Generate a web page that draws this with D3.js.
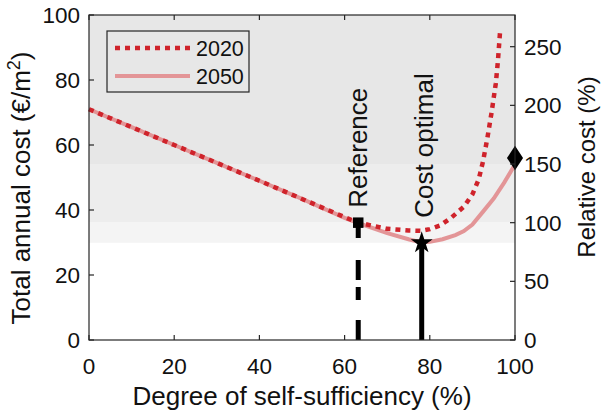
<!DOCTYPE html>
<html>
<head>
<meta charset="utf-8">
<script src="https://cdn.jsdelivr.net/npm/d3@7"></script>
<style>
  body { margin: 0; background: #fff; }
  text { font-family: "Liberation Sans", Arial, sans-serif; fill: #111; }
</style>
</head>
<body>
<div id="chart"></div>
<script>
// self-sufficiency (%) -> total annual cost (EUR/m2)
const ss2020 = [0, 10, 20, 30, 40, 50, 60, 63.2, 70, 75, 78, 80, 82.5, 85, 88, 90, 91.5, 92.5, 93.5, 94.5, 95.5, 96, 96.5];
const cost2020 = [71, 65.5, 60, 54.5, 49, 43.4, 37.8, 36.1, 34.2, 33.7, 33.6, 34.1, 35.3, 37.6, 41, 44.8, 49.5, 55, 62, 70, 79, 86, 95];
const ss2050 = [0, 10, 20, 30, 40, 50, 60, 63.2, 70, 75, 78, 80, 83, 86, 88, 90, 92.5, 95, 97.5, 100];
const cost2050 = [71, 65.5, 60, 54.5, 49, 43.4, 37.6, 36, 32.9, 31, 30, 30.2, 31, 32.3, 33.5, 35.5, 39.5, 43.5, 48.5, 54];

const refPoint = { ss: 63.2, cost: 36.1 };
const optPoint = { ss: 78.1, cost: 29.9 };
const fullPoint = { ss: 100, cost: 56 };

const xTicks = [0, 20, 40, 60, 80, 100];
const yTicks = [0, 20, 40, 60, 80, 100];
const relTicks = [0, 50, 100, 150, 200, 250];
// relative cost bands (%)
const bandEdges = [150, 100, optPoint.cost / refPoint.cost * 100];
const bandColors = ['#e7e7e7', '#ededed', '#f4f4f4'];

const width = 602;
const height = 415;
const plot = { left: 89, right: 515, top: 15, bottom: 340 };
const tickFont = '22.5px';
const labelFont = '26px';

const x = d3.scaleLinear().domain([0, 100]).range([plot.left, plot.right]);
const y = d3.scaleLinear().domain([0, 100]).range([plot.bottom, plot.top]);
const yRel = d3.scaleLinear()
  .domain([0, 100 * 100 / refPoint.cost])
  .range([plot.bottom, plot.top]);

const svg = d3.select('#chart').append('svg')
  .attr('width', width)
  .attr('height', height);

// background bands
const bandTops = [yRel.domain()[1], bandEdges[0], bandEdges[1]];
bandTops.forEach((top, i) => {
  svg.append('rect')
    .attr('x', plot.left)
    .attr('width', plot.right - plot.left)
    .attr('y', yRel(top))
    .attr('height', yRel(bandEdges[i]) - yRel(top))
    .style('fill', bandColors[i]);
});

const line = d3.line()
  .x(d => x(d[0]))
  .y(d => y(d[1]));

// 2050 solid
svg.append('path')
  .datum(ss2050.map((s, i) => [s, cost2050[i]]))
  .attr('d', line)
  .style('fill', 'none')
  .style('stroke', '#e39597')
  .style('stroke-width', 4);

// 2020 dotted
svg.append('path')
  .datum(ss2020.map((s, i) => [s, cost2020[i]]))
  .attr('d', line)
  .style('fill', 'none')
  .style('stroke', '#cf232b')
  .style('stroke-width', 4.5)
  .style('stroke-dasharray', '5,5');

// reference: dashed drop line
svg.append('line')
  .attr('x1', x(refPoint.ss)).attr('x2', x(refPoint.ss))
  .attr('y1', y(0)).attr('y2', y(refPoint.cost))
  .style('stroke', '#000')
  .style('stroke-width', 5)
  .style('stroke-dasharray', '20,20,13,7,20,22');

// cost optimal: solid drop line
svg.append('line')
  .attr('x1', x(optPoint.ss)).attr('x2', x(optPoint.ss))
  .attr('y1', y(0)).attr('y2', y(optPoint.cost))
  .style('stroke', '#000')
  .style('stroke-width', 5);

svg.append('path')
  .attr('d', d3.symbol(d3.symbolSquare, 110)())
  .attr('transform', `translate(${x(refPoint.ss)},${y(refPoint.cost)})`)
  .style('fill', '#000');

svg.append('path')
  .attr('d', d3.symbol(d3.symbolStar, 150)())
  .attr('transform', `translate(${x(optPoint.ss)},${y(optPoint.cost)})`)
  .style('fill', '#000');

svg.append('path')
  .attr('d', d3.symbol(d3.symbolDiamond, 170)())
  .attr('transform', `translate(${x(fullPoint.ss)},${y(fullPoint.cost)}) scale(1.15,1)`)
  .style('fill', '#000');

// annotations
svg.append('text')
  .attr('transform', `translate(${x(refPoint.ss) + 9},${y(refPoint.cost) - 15}) rotate(-90)`)
  .style('font-size', labelFont)
  .text('Reference');

svg.append('text')
  .attr('transform', `translate(${x(optPoint.ss) + 11},${y(optPoint.cost) - 25}) rotate(-90)`)
  .style('font-size', labelFont)
  .text('Cost optimal');

// axes box and ticks
const tick = 5;
svg.append('rect')
  .attr('x', plot.left).attr('y', plot.top)
  .attr('width', plot.right - plot.left)
  .attr('height', plot.bottom - plot.top)
  .style('fill', 'none')
  .style('stroke', '#262626')
  .style('stroke-width', 1.2);

const g = svg.append('g').style('stroke', '#262626').style('stroke-width', 1.2);
xTicks.forEach(t => {
  g.append('line').attr('x1', x(t)).attr('x2', x(t)).attr('y1', plot.bottom).attr('y2', plot.bottom - tick);
  g.append('line').attr('x1', x(t)).attr('x2', x(t)).attr('y1', plot.top).attr('y2', plot.top + tick);
});
yTicks.forEach(t => {
  g.append('line').attr('x1', plot.left).attr('x2', plot.left + tick).attr('y1', y(t)).attr('y2', y(t));
});
relTicks.forEach(t => {
  g.append('line').attr('x1', plot.right).attr('x2', plot.right - tick).attr('y1', yRel(t)).attr('y2', yRel(t));
});

svg.selectAll('.xt').data(xTicks).enter().append('text')
  .attr('x', d => x(d))
  .attr('y', 374)
  .style('text-anchor', 'middle')
  .style('font-size', tickFont)
  .text(d => d);

svg.selectAll('.yt').data(yTicks).enter().append('text')
  .attr('x', 80)
  .attr('y', d => y(d) + 8)
  .style('text-anchor', 'end')
  .style('font-size', tickFont)
  .text(d => d);

svg.selectAll('.rt').data(relTicks).enter().append('text')
  .attr('x', 524)
  .attr('y', d => yRel(d) + 8)
  .style('font-size', tickFont)
  .text(d => d);

// axis titles
svg.append('text')
  .attr('x', 302)
  .attr('y', 405)
  .style('text-anchor', 'middle')
  .style('font-size', labelFont)
  .text('Degree of self-sufficiency (%)');

const yLabel = svg.append('text')
  .attr('transform', 'translate(30,188) rotate(-90)')
  .style('text-anchor', 'middle')
  .style('font-size', labelFont);
yLabel.append('tspan').text('Total annual cost (€/m');
yLabel.append('tspan').attr('dy', -10).style('font-size', '18px').text('2');
yLabel.append('tspan').attr('dy', 10).text(')');

svg.append('text')
  .attr('transform', 'translate(595,167) rotate(-90)')
  .style('text-anchor', 'middle')
  .style('font-size', '24px')
  .text('Relative cost (%)');

// legend
const legend = svg.append('g');
legend.append('rect')
  .attr('x', 107).attr('y', 31)
  .attr('width', 142).attr('height', 61)
  .style('fill', 'none')
  .style('stroke', '#262626')
  .style('stroke-width', 1.2);

const legendItems = [
  { label: '2020', color: '#cf232b', width: 4.5, dash: '5,5' },
  { label: '2050', color: '#e39597', width: 4, dash: null },
];
legendItems.forEach((d, i) => {
  const ly = 48 + i * 28;
  legend.append('line')
    .attr('x1', 115).attr('x2', 190)
    .attr('y1', ly).attr('y2', ly)
    .style('stroke', d.color)
    .style('stroke-width', d.width)
    .style('stroke-dasharray', d.dash);
  legend.append('text')
    .attr('x', 196)
    .attr('y', ly + 8)
    .style('font-size', '21.5px')
    .text(d.label);
});
</script>
</body>
</html>
